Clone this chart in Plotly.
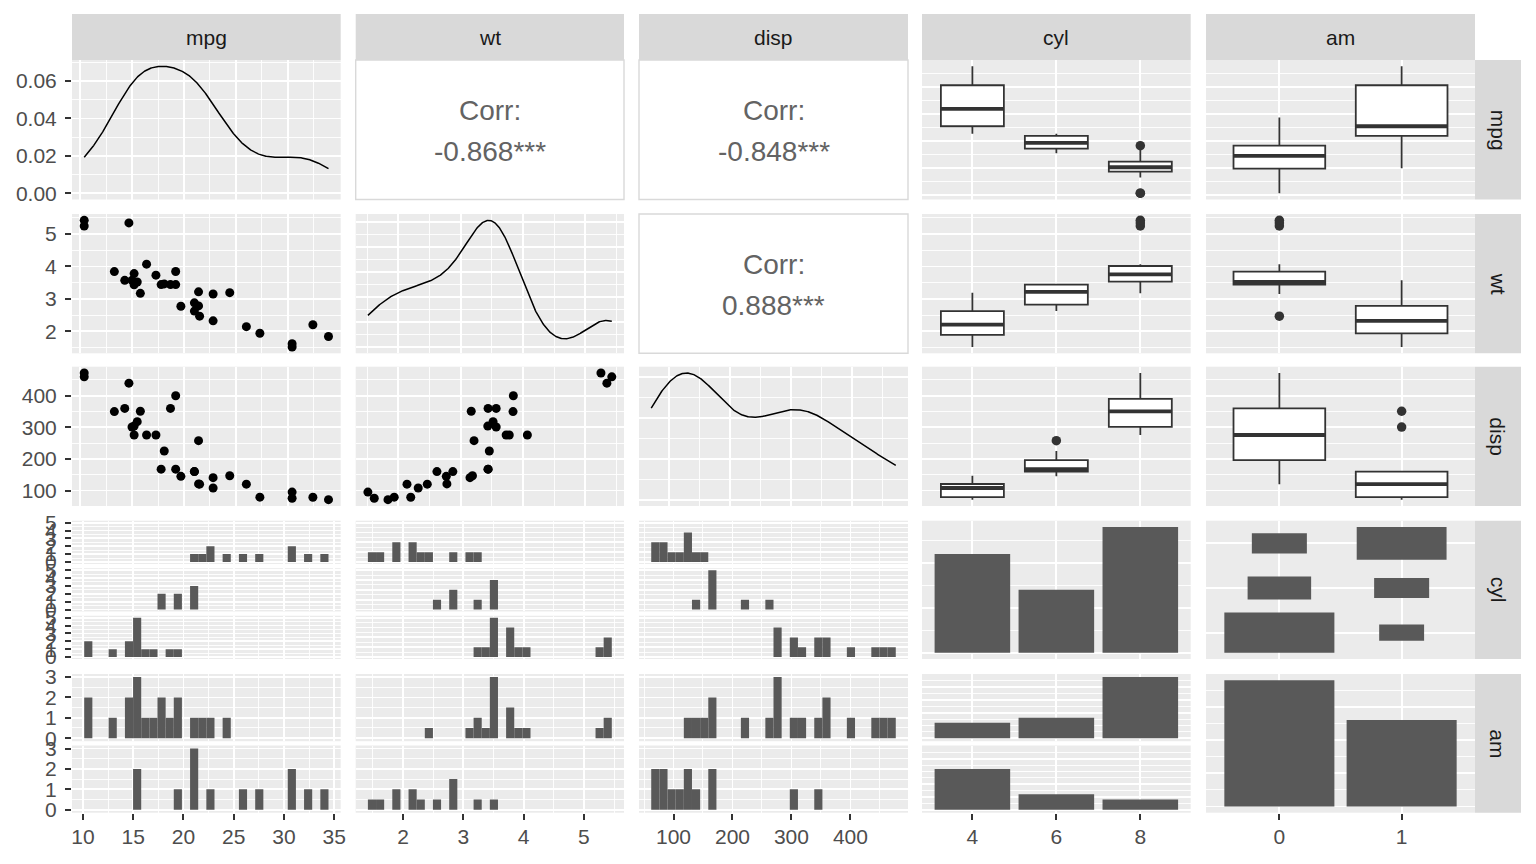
import math
import numpy as np
import plotly.graph_objects as go

# ---------------- data (mtcars, as plotted) ----------------
mpg = [21.0, 21.0, 22.8, 21.4, 18.7, 18.1, 14.3, 24.4, 22.8, 19.2, 17.8, 16.4, 17.3, 15.2, 10.4, 10.4,
       14.7, 32.4, 30.4, 33.9, 21.5, 15.5, 15.2, 13.3, 19.2, 27.3, 26.0, 30.4, 15.8, 19.7, 15.0, 21.4]
wt = [2.620, 2.875, 2.320, 3.215, 3.440, 3.460, 3.570, 3.190, 3.150, 3.440, 3.440, 4.070, 3.730, 3.780,
      5.250, 5.424, 5.345, 2.200, 1.615, 1.835, 2.465, 3.520, 3.435, 3.840, 3.845, 1.935, 2.140, 1.513,
      3.170, 2.770, 3.570, 2.780]
disp = [160.0, 160.0, 108.0, 258.0, 360.0, 225.0, 360.0, 146.7, 140.8, 167.6, 167.6, 275.8, 275.8, 275.8,
        472.0, 460.0, 440.0, 78.7, 75.7, 71.1, 120.1, 318.0, 304.0, 350.0, 400.0, 79.0, 120.3, 95.1,
        351.0, 145.0, 301.0, 121.0]
cyl = [6, 6, 4, 6, 8, 6, 8, 4, 4, 6, 6, 8, 8, 8, 8, 8, 8, 4, 4, 4, 4, 8, 8, 8, 8, 4, 4, 4, 8, 6, 8, 4]
am = [1, 1, 1, 0, 0, 0, 0, 0, 0, 0, 0, 0, 0, 0, 0, 0, 0, 1, 1, 1, 0, 0, 0, 0, 0, 1, 1, 1, 1, 1, 1, 1]

var_names = ["mpg", "wt", "disp", "cyl", "am"]
cyl_levels = [4, 6, 8]
am_levels = [0, 1]

# ---------------- layout constants (pixels) ----------------
W, H = 1536, 864
COL_PX = [(72.0, 340.7), (355.7, 624.0), (639.0, 908.0), (922.0, 1190.7), (1206.0, 1475.0)]
ROW_PX = [(60.0, 199.5), (214.0, 353.3), (366.7, 506.0), (520.7, 659.0), (674.0, 812.7)]
STRIP_TOP = (14.0, 60.0)
STRIP_RIGHT = (1475.0, 1521.0)
FACET_GAP = 4.3

FONT = "Liberation Sans, Arial, sans-serif"
PANEL_BG = "#EBEBEB"
STRIP_BG = "#D9D9D9"
BAR_COL = "#595959"
BOX_COL = "#333333"
TICK_COL = "#333333"
TICKLAB_COL = "#4D4D4D"
STRIP_TXT = "#1A1A1A"
CORR_COL = "#636363"
MAJ_W = 1.8
MIN_W = 0.9
TICK_FONT = 21


# ---------------- helpers ----------------
def extended(dmin, dmax, m=5, Q=(1, 5, 2, 2.5, 4, 3), w=(0.25, 0.2, 0.5, 0.05)):
    """Talbot et al. extended tick algorithm (as in R labeling::extended)."""
    eps = 1e-10
    n = len(Q)
    rng = dmax - dmin
    if rng < eps:
        return dmin, dmin, 1.0
    best = None
    best_score = -2.0
    INF = float("inf")
    j = 1.0
    while j < INF:
        for qi, q in enumerate(Q):
            i = qi + 1
            sm = 1 - (i - 1) / (n - 1) - j + 1
            if w[0] * sm + w[1] + w[2] + w[3] < best_score:
                j = INF
                break
            k = 2.0
            while k < INF:
                dm = 2 - (k - 1) / (m - 1) if k >= m else 1.0
                if w[0] * sm + w[1] + w[2] * dm + w[3] < best_score:
                    break
                delta = rng / (k + 1) / j / q
                z = math.ceil(math.log10(delta))
                while z < INF:
                    step = j * q * 10.0 ** z
                    span = step * (k - 1)
                    if span > rng:
                        half = (span - rng) / 2
                        cm = 1 - 0.5 * (2 * half ** 2) / ((0.1 * rng) ** 2)
                    else:
                        cm = 1.0
                    if w[0] * sm + w[1] * cm + w[2] * dm + w[3] < best_score:
                        break
                    min_start = int(math.floor(dmax / step) * j - (k - 1) * j)
                    max_start = int(math.ceil(dmin / step) * j)
                    if min_start > max_start:
                        z += 1
                        continue
                    for start in range(min_start, max_start + 1):
                        lmin = start * (step / j)
                        lmax = lmin + step * (k - 1)
                        md = lmin % step
                        v = 1 if ((md < eps or step - md < eps) and lmin <= 0 and lmax >= 0) else 0
                        s = 1 - (i - 1) / (n - 1) - j + v
                        c = 1 - 0.5 * ((dmax - lmax) ** 2 + (dmin - lmin) ** 2) / ((0.1 * rng) ** 2)
                        r = (k - 1) / (lmax - lmin)
                        rt = (m - 1) / (max(lmax, dmax) - min(dmin, lmin))
                        g = 2 - max(r / rt, rt / r)
                        score = w[0] * s + w[1] * c + w[2] * g + w[3]
                        if score > best_score:
                            best_score = score
                            best = (lmin, lmax, step)
                    z += 1
                k += 1
        j += 1
    return best


def expand(lo, hi, mult=0.05):
    d = (hi - lo) * mult
    return [lo - d, hi + d]


def fmt_for(step):
    for d in range(0, 7):
        if abs(round(step, d) - step) < 1e-9 * max(1.0, abs(step)):
            return ".%df" % d
    return ".3f"


def cont_cfg(lo, hi):
    r = expand(lo, hi)
    b0, b1, step = extended(r[0], r[1])
    return dict(kind="cont", range=r, tick0=b0, dtick=step, fmt=fmt_for(step))


def disc_cfg(labels):
    n = len(labels)
    return dict(kind="disc", range=[0.4, n + 0.6], tickvals=list(range(1, n + 1)),
                ticktext=[str(v) for v in labels])


def axis_dict(cfg, labels, is_x):
    d = dict(range=cfg["range"], showline=False, zeroline=False, showgrid=True, automargin=False,
             gridcolor="white", gridwidth=MAJ_W, fixedrange=True, layer="below traces")
    if cfg["kind"] == "cont":
        d.update(tickmode="linear", tick0=cfg["tick0"], dtick=cfg["dtick"], tickformat=cfg["fmt"],
                 minor=dict(tickmode="linear", tick0=cfg["tick0"], dtick=cfg["dtick"] / 2.0,
                            showgrid=True, gridcolor="white", gridwidth=MIN_W, ticks=""))
    else:
        d.update(tickmode="array", tickvals=cfg["tickvals"], ticktext=cfg["ticktext"])
    if labels:
        d.update(showticklabels=True, ticks="outside", ticklen=6, tickwidth=2, tickcolor=TICK_COL,
                 tickfont=dict(family=FONT, size=TICK_FONT, color=TICKLAB_COL),
                 ticklabelstandoff=-1 if is_x else 4)
    else:
        d.update(showticklabels=False, ticks="")
    return d


layout_axes = {}
traces = []
shapes = []
annotations = []
ax_counter = [0]


def add_axes(xpx, ypx, xcfg, ycfg, xlabels=False, ylabels=False):
    ax_counter[0] += 1
    n = ax_counter[0]
    sfx = "" if n == 1 else str(n)
    xa = axis_dict(xcfg, xlabels, True)
    xa.update(domain=[xpx[0] / W, xpx[1] / W], anchor="y" + sfx)
    ya = axis_dict(ycfg, ylabels, False)
    ya.update(domain=[1 - ypx[1] / H, 1 - ypx[0] / H], anchor="x" + sfx)
    layout_axes["xaxis" + sfx] = xa
    layout_axes["yaxis" + sfx] = ya
    return "x" + sfx, "y" + sfx


def facet_rows(ypx, k, gap=FACET_GAP):
    y0, y1 = ypx
    h = (y1 - y0 - gap * (k - 1)) / k
    return [(y0 + i * (h + gap), y0 + i * (h + gap) + h) for i in range(k)]


def bw_nrd0(x):
    x = np.asarray(x, float)
    sd = x.std(ddof=1)
    iqr = np.percentile(x, 75) - np.percentile(x, 25)
    lo = min(sd, iqr / 1.34)
    return 0.9 * lo * len(x) ** -0.2


def kde(x):
    x = np.asarray(x, float)
    h = bw_nrd0(x)
    g = np.linspace(x.min(), x.max(), 512)
    d = np.exp(-0.5 * ((g[:, None] - x[None, :]) / h) ** 2).sum(1) / (len(x) * h * math.sqrt(2 * math.pi))
    return g, d


def hist_breaks(x):
    lo, hi = float(min(x)), float(max(x))
    width = (hi - lo) / 29.0
    boundary = width / 2.0
    shift = math.floor((lo - boundary) / width)
    origin = boundary + shift * width
    max_x = hi + (1 - 1e-8) * width
    nb = int(math.floor((max_x - origin) / width + 1e-10))
    return origin + width * np.arange(nb + 1), width


def cor_text(x, y):
    x = np.asarray(x, float)
    y = np.asarray(y, float)
    r = float(np.corrcoef(x, y)[0, 1])
    n = len(x)
    t = abs(r) * math.sqrt((n - 2) / (1 - r * r))
    stars = "***" if t > 3.646 else "**" if t > 2.750 else "*" if t > 2.042 else "." if t > 1.697 else ""
    return "%.3f%s" % (r, stars)


data = {"mpg": mpg, "wt": wt, "disp": disp, "cyl": cyl, "am": am}
levels = {"cyl": cyl_levels, "am": am_levels}
is_cont = {"mpg": True, "wt": True, "disp": True, "cyl": False, "am": False}

# ---------------- panels ----------------
for i, rv in enumerate(var_names):
    for j, cv in enumerate(var_names):
        xpx = COL_PX[j]
        ypx = ROW_PX[i]
        xl = (i == len(var_names) - 1)
        yl = (j == 0)
        if is_cont[rv] and is_cont[cv]:
            if i == j:
                g, d = kde(data[cv])
                xa, ya = add_axes(xpx, ypx, cont_cfg(min(data[cv]), max(data[cv])),
                                  cont_cfg(0.0, float(d.max())), xl, yl)
                traces.append(go.Scatter(x=g, y=d, mode="lines", line=dict(color="black", width=1.5),
                                         xaxis=xa, yaxis=ya, hoverinfo="skip"))
            elif i < j:
                shapes.append(dict(type="rect", xref="paper", yref="paper",
                                   x0=xpx[0] / W, x1=xpx[1] / W, y0=1 - ypx[1] / H, y1=1 - ypx[0] / H,
                                   fillcolor="white", line=dict(color="#D9D9D9", width=1.4), layer="below"))
                cx = (xpx[0] + xpx[1]) / 2 / W
                cy = (ypx[0] + ypx[1]) / 2
                annotations.append(dict(x=cx, y=1 - (cy - 19.5) / H, xref="paper", yref="paper",
                                        text="Corr:", showarrow=False, xanchor="center", yanchor="middle",
                                        font=dict(family=FONT, size=28, color=CORR_COL)))
                annotations.append(dict(x=cx, y=1 - (cy + 21.5) / H, xref="paper", yref="paper",
                                        text=cor_text(data[cv], data[rv]), showarrow=False,
                                        xanchor="center", yanchor="middle",
                                        font=dict(family=FONT, size=28, color=CORR_COL)))
            else:
                xa, ya = add_axes(xpx, ypx, cont_cfg(min(data[cv]), max(data[cv])),
                                  cont_cfg(min(data[rv]), max(data[rv])), xl, yl)
                traces.append(go.Scatter(x=data[cv], y=data[rv], mode="markers",
                                         marker=dict(color="black", size=9, line=dict(width=0)),
                                         xaxis=xa, yaxis=ya, hoverinfo="skip"))
        elif is_cont[rv] and not is_cont[cv]:
            # boxplot of row variable by column factor
            levs = levels[cv]
            xa, ya = add_axes(xpx, ypx, disc_cfg(levs), cont_cfg(min(data[rv]), max(data[rv])), xl, yl)
            vals = np.asarray(data[rv], float)
            grp = np.asarray(data[cv])
            for p, lev in enumerate(levs, start=1):
                v = np.sort(vals[grp == lev])
                q1, med, q3 = np.percentile(v, [25, 50, 75])
                iqr = q3 - q1
                inside = v[(v >= q1 - 1.5 * iqr) & (v <= q3 + 1.5 * iqr)]
                outl = v[(v < q1 - 1.5 * iqr) | (v > q3 + 1.5 * iqr)]
                traces.append(go.Box(x=[p], q1=[q1], median=[med], q3=[q3],
                                     lowerfence=[inside.min()], upperfence=[inside.max()],
                                     width=0.75, fillcolor="white", line=dict(color=BOX_COL, width=1.8),
                                     whiskerwidth=0, boxpoints=False, xaxis=xa, yaxis=ya,
                                     hoverinfo="skip"))
                traces.append(go.Scatter(x=[p - 0.375, p + 0.375], y=[med, med], mode="lines",
                                         line=dict(color=BOX_COL, width=3.8), xaxis=xa, yaxis=ya,
                                         hoverinfo="skip"))
                if len(outl):
                    traces.append(go.Scatter(x=[p] * len(outl), y=outl, mode="markers",
                                             marker=dict(color=BOX_COL, size=9.5, line=dict(width=0)),
                                             xaxis=xa, yaxis=ya, hoverinfo="skip"))
        elif not is_cont[rv] and is_cont[cv]:
            # faceted histogram of column variable, facets = row factor levels
            levs = levels[rv]
            vals = np.asarray(data[cv], float)
            grp = np.asarray(data[rv])
            breaks, bw = hist_breaks(vals)
            centers = (breaks[:-1] + breaks[1:]) / 2
            counts = [np.histogram(vals[grp == lev], bins=breaks)[0] for lev in levs]
            cmax = max(c.max() for c in counts)
            fr = facet_rows(ypx, len(levs))
            for f, lev in enumerate(levs):
                xa, ya = add_axes(xpx, fr[f], cont_cfg(breaks[0], breaks[-1]), cont_cfg(0.0, float(cmax)),
                                  xl and f == len(levs) - 1, yl)
                traces.append(go.Bar(x=centers, y=counts[f], width=bw, marker=dict(color=BAR_COL, line=dict(width=0)),
                                     xaxis=xa, yaxis=ya, hoverinfo="skip"))
        else:
            levs_c = levels[cv]
            levs_r = levels[rv]
            if i == j:
                vals = np.asarray(data[cv])
                cnt = [int((vals == lev).sum()) for lev in levs_c]
                xa, ya = add_axes(xpx, ypx, disc_cfg(levs_c), cont_cfg(0.0, float(max(cnt))), xl, yl)
                traces.append(go.Bar(x=list(range(1, len(levs_c) + 1)), y=cnt, width=0.9,
                                     marker=dict(color=BAR_COL, line=dict(width=0)),
                                     xaxis=xa, yaxis=ya, hoverinfo="skip"))
            elif i < j:
                # count tiles: x = column factor, y = row factor (first level on top)
                xv = np.asarray(data[cv])
                yv = np.asarray(data[rv])
                nr = len(levs_r)
                tab = [[int(((xv == lc) & (yv == lr)).sum()) for lc in levs_c] for lr in levs_r]
                nmax = max(max(r) for r in tab)
                bx, bh, bwid, bbase = [], [], [], []
                for ri, lr in enumerate(levs_r):
                    ypos = nr - ri
                    for ci, lc in enumerate(levs_c):
                        s = 0.9 * math.sqrt(tab[ri][ci] / nmax)
                        bx.append(ci + 1)
                        bh.append(s)
                        bwid.append(s)
                        bbase.append(ypos - s / 2)
                lo = min(bbase)
                hi = max(b + h for b, h in zip(bbase, bh))
                ycfg = dict(kind="disc", range=expand(lo, hi), tickvals=list(range(1, nr + 1)),
                            ticktext=[str(v) for v in reversed(levs_r)])
                xa, ya = add_axes(xpx, ypx, disc_cfg(levs_c), ycfg, xl, yl)
                traces.append(go.Bar(x=bx, y=bh, base=bbase, width=bwid,
                                     marker=dict(color=BAR_COL, line=dict(width=0)),
                                     xaxis=xa, yaxis=ya, hoverinfo="skip"))
            else:
                # facet bar: x = column factor, facets = row factor
                xv = np.asarray(data[cv])
                yv = np.asarray(data[rv])
                tab = [[int(((xv == lc) & (yv == lr)).sum()) for lc in levs_c] for lr in levs_r]
                nmax = max(max(r) for r in tab)
                fr = facet_rows(ypx, len(levs_r))
                for f, lr in enumerate(levs_r):
                    xa, ya = add_axes(xpx, fr[f], disc_cfg(levs_c), cont_cfg(0.0, float(nmax)),
                                      xl and f == len(levs_r) - 1, yl)
                    traces.append(go.Bar(x=list(range(1, len(levs_c) + 1)), y=tab[f], width=0.9,
                                         marker=dict(color=BAR_COL, line=dict(width=0)),
                                         xaxis=xa, yaxis=ya, hoverinfo="skip"))

# ---------------- strips ----------------
for j, name in enumerate(var_names):
    x0, x1 = COL_PX[j]
    shapes.append(dict(type="rect", xref="paper", yref="paper", x0=x0 / W, x1=x1 / W,
                       y0=1 - STRIP_TOP[1] / H, y1=1 - STRIP_TOP[0] / H,
                       fillcolor=STRIP_BG, line=dict(width=0), layer="below"))
    annotations.append(dict(x=(x0 + x1) / 2 / W, y=1 - (STRIP_TOP[0] + STRIP_TOP[1]) / 2 / H,
                            xref="paper", yref="paper", text=name, showarrow=False,
                            xanchor="center", yanchor="middle",
                            font=dict(family=FONT, size=21, color=STRIP_TXT)))
for i, name in enumerate(var_names):
    y0, y1 = ROW_PX[i]
    shapes.append(dict(type="rect", xref="paper", yref="paper", x0=STRIP_RIGHT[0] / W, x1=STRIP_RIGHT[1] / W,
                       y0=1 - y1 / H, y1=1 - y0 / H, fillcolor=STRIP_BG, line=dict(width=0), layer="below"))
    annotations.append(dict(x=(STRIP_RIGHT[0] + STRIP_RIGHT[1]) / 2 / W, y=1 - (y0 + y1) / 2 / H,
                            xref="paper", yref="paper", text=name, showarrow=False, textangle=90,
                            xanchor="center", yanchor="middle",
                            font=dict(family=FONT, size=21, color=STRIP_TXT)))

fig = go.Figure(data=traces)
fig.update_layout(**layout_axes)
fig.update_layout(width=W, height=H, margin=dict(l=0, r=0, t=0, b=0, pad=0), autosize=False,
                  paper_bgcolor="white", plot_bgcolor=PANEL_BG, showlegend=False,
                  barmode="overlay", shapes=shapes, annotations=annotations,
                  font=dict(family=FONT))
fig.write_html("out.html", include_plotlyjs=True, full_html=True,
               config={"displayModeBar": False, "staticPlot": True},
               post_script="document.body.style.margin='0';document.body.style.overflow='hidden';")
